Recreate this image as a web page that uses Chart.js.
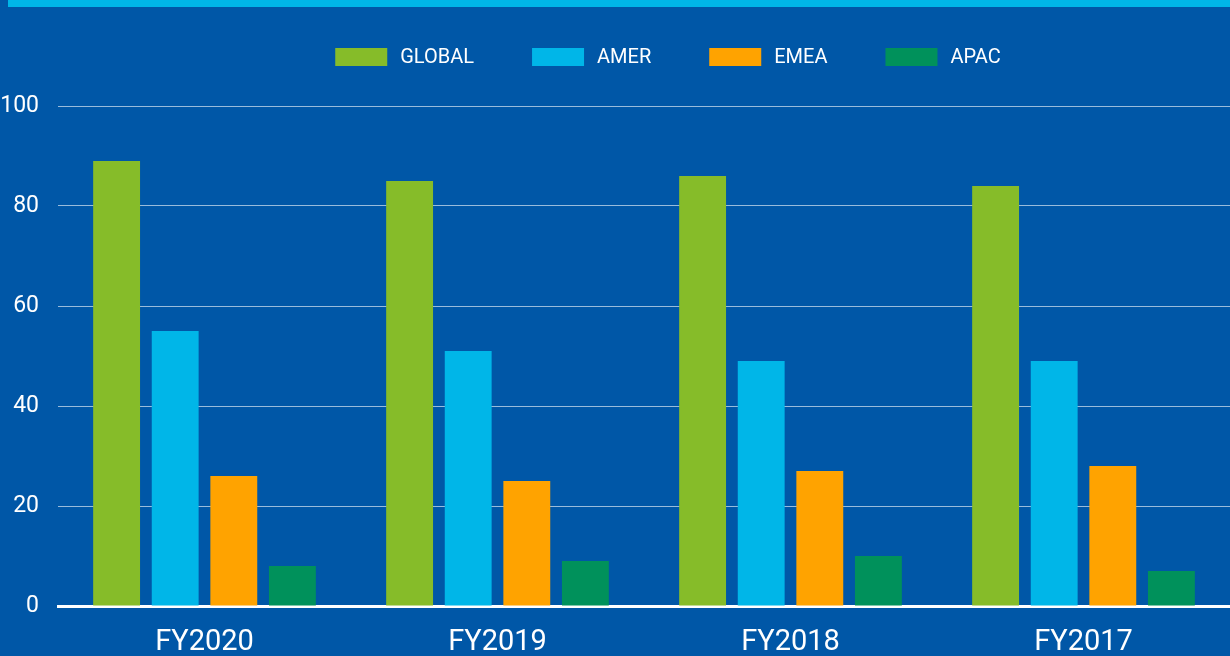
<!DOCTYPE html>
<html>
<head>
<meta charset="utf-8">
<script src="https://cdn.jsdelivr.net/npm/chart.js@4.4.0/dist/chart.umd.min.js"></script>
<style>
  html, body { margin: 0; padding: 0; background: #0057a7; overflow: hidden; }
  #wrap { position: relative; width: 1230px; height: 656px; }
  #strip { position: absolute; left: 8px; top: 0; width: 1222px; height: 7px; background: #00b6e8; }
  canvas { display: block; }
</style>
</head>
<body>
<div id="wrap">
  <div id="strip"></div>
  <canvas id="chart" width="1230" height="656"></canvas>
</div>
<script>
// Chart data
const categories = ['FY2020', 'FY2019', 'FY2018', 'FY2017'];
const seriesNames = ['GLOBAL', 'AMER', 'EMEA', 'APAC'];
const globalValues = [89, 85, 86, 84];
const amerValues = [55, 51, 49, 49];
const emeaValues = [26, 25, 27, 28];
const apacValues = [8, 9, 10, 7];
const seriesColors = ['#86bc29', '#00b6e8', '#ffa300', '#00915b'];
const yMax = 100;
const yStep = 20;

Chart.defaults.font.family = 'Roboto, "Noto Sans", sans-serif';

/**
 * Legend row drawn above the plot (the built-in one can't be offset from center)
 */
const topLegend = {
  id: 'topLegend',
  afterDraw(chart, args, opts) {
    const ctx = chart.ctx;
    ctx.save();
    ctx.font = opts.font;
    const items = chart.data.datasets.map(ds => ({
      text: ds.label,
      color: ds.backgroundColor,
      w: ctx.measureText(ds.label).width
    }));
    const total = items.reduce((s, it) => s + opts.boxWidth + opts.textGap + it.w, 0)
      + opts.gap * (items.length - 1);
    let x = opts.centerX - total / 2;
    items.forEach(it => {
      ctx.fillStyle = it.color;
      ctx.fillRect(x, opts.y - opts.boxHeight / 2, opts.boxWidth, opts.boxHeight);
      ctx.fillStyle = '#ffffff';
      ctx.textBaseline = 'middle';
      ctx.fillText(it.text, x + opts.boxWidth + opts.textGap, opts.y + 1);
      x += opts.boxWidth + opts.textGap + it.w + opts.gap;
    });
    ctx.restore();
  }
};

const valueSets = [globalValues, amerValues, emeaValues, apacValues];

new Chart(document.getElementById('chart'), {
  type: 'bar',
  data: {
    labels: categories,
    datasets: seriesNames.map((name, i) => ({
      label: name,
      data: valueSets[i],
      backgroundColor: seriesColors[i],
      borderWidth: 0,
      categoryPercentage: 0.8,
      barPercentage: 0.8
    }))
  },
  options: {
    responsive: false,
    animation: false,
    layout: { padding: { top: 106, left: 0, right: 0, bottom: 0 } },
    plugins: {
      legend: { display: false },
      tooltip: { enabled: false },
      topLegend: {
        font: '20px Roboto',
        centerX: 668,
        y: 57,
        boxWidth: 52,
        boxHeight: 18,
        textGap: 13,
        gap: 58
      }
    },
    scales: {
      x: {
        grid: { display: false, drawTicks: false },
        border: { display: true, color: '#ffffff', width: 3 },
        ticks: { color: '#ffffff', font: { size: 29 }, padding: 19.6 },
        // keep the label band tight against the bottom edge
        afterFit: (scale) => { scale.height = 50; }
      },
      y: {
        min: 0,
        max: yMax,
        border: { display: false },
        grid: { color: 'rgba(255,255,255,0.6)', lineWidth: 1, drawTicks: false },
        ticks: { stepSize: yStep, color: '#ffffff', font: { size: 23 }, padding: 19 },
        afterFit: (scale) => { scale.width = 58; }
      }
    }
  },
  plugins: [topLegend]
});
</script>
</body>
</html>
